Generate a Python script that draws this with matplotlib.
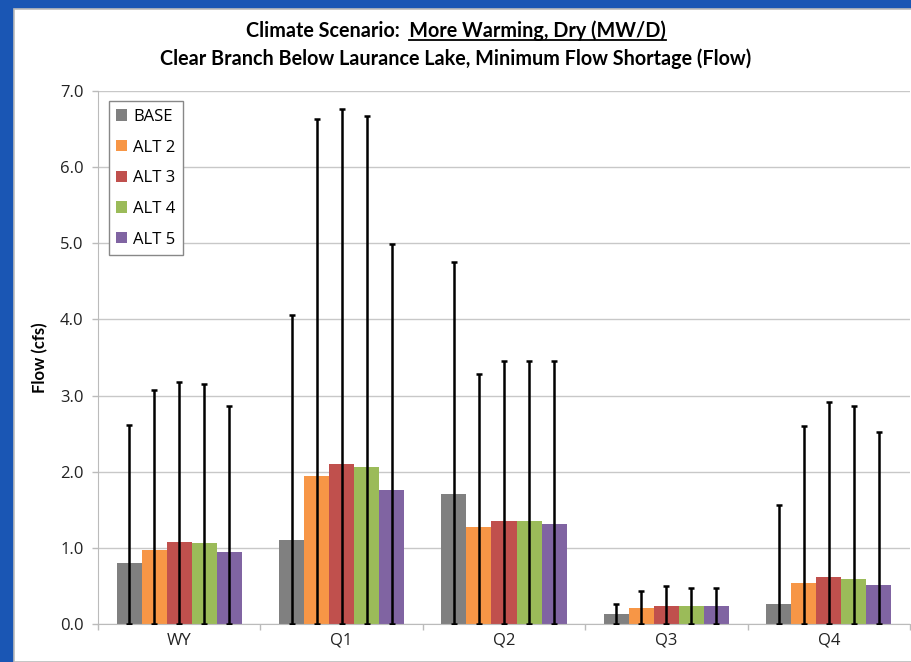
import numpy as np
import matplotlib
matplotlib.use("Agg")
import matplotlib.pyplot as plt
from matplotlib.patches import Rectangle

matplotlib.rcParams["font.family"] = ["Open Sans", "DejaVu Sans"]

# Data (cfs)
categories = ["WY", "Q1", "Q2", "Q3", "Q4"]
series = ["BASE", "ALT 2", "ALT 3", "ALT 4", "ALT 5"]
colors = ["#808080", "#F79646", "#C0504D", "#9BBB59", "#8064A2"]

mean_vals = {
    "BASE":  [0.80, 1.11, 1.71, 0.13, 0.26],
    "ALT 2": [0.98, 1.94, 1.28, 0.21, 0.54],
    "ALT 3": [1.08, 2.10, 1.35, 0.245, 0.615],
    "ALT 4": [1.06, 2.07, 1.35, 0.235, 0.60],
    "ALT 5": [0.955, 1.76, 1.32, 0.235, 0.515],
}
max_vals = {
    "BASE":  [2.62, 4.06, 4.75, 0.26, 1.57],
    "ALT 2": [3.08, 6.63, 3.28, 0.44, 2.60],
    "ALT 3": [3.18, 6.76, 3.46, 0.50, 2.92],
    "ALT 4": [3.15, 6.67, 3.46, 0.48, 2.87],
    "ALT 5": [2.86, 4.99, 3.46, 0.48, 2.52],
}

fig = plt.figure(figsize=(9.12, 6.62), dpi=100)
fig.patch.set_facecolor("#1A56B4")
# white slide area
fig.patches.append(Rectangle((14 / 912, 0), 1, 1 - 9 / 662, transform=fig.transFigure,
                             facecolor="white", edgecolor="#BBBBBB", lw=1.2, zorder=-10))

ax = fig.add_axes([98 / 912, 1 - 624.3 / 662, (910 - 98) / 912, (624.3 - 90.7) / 662])
ax.set_facecolor("none")

x = np.arange(len(categories))
w = 0.154
for i, s in enumerate(series):
    pos = x + (i - 2) * w
    m = np.array(mean_vals[s])
    mx = np.array(max_vals[s])
    ax.bar(pos, m, width=w, color=colors[i], label=s, zorder=2)
    ax.errorbar(pos, m, yerr=[m, mx - m], fmt="none", ecolor="black",
                elinewidth=1.8, capsize=2.5, capthick=1.8, zorder=3)

ax.set_xlim(-0.5, len(categories) - 0.5)
ax.set_ylim(0, 7)
ax.set_yticks(np.arange(0, 7.1, 1.0))
ax.set_yticklabels([f"{v:.1f}" for v in np.arange(0, 7.1, 1.0)])
ax.yaxis.grid(True, color="#C8C8C8", lw=1.0, zorder=0)
ax.set_axisbelow(True)

ax.set_xticks(x)
ax.set_xticklabels(categories)
ax.set_xticks(np.arange(-0.5, len(categories)), minor=True)
ax.tick_params(axis="x", which="major", length=0, pad=6, labelsize=12, labelcolor="#222222")
ax.tick_params(axis="x", which="minor", length=4.5, color="#BBBBBB", width=1)
ax.tick_params(axis="y", length=4.5, color="#BBBBBB", width=1, labelsize=12, pad=6,
               labelcolor="#222222")

for side in ["top", "right"]:
    ax.spines[side].set_visible(False)
ax.spines["left"].set_color("#BBBBBB")
ax.spines["bottom"].set_color("#BBBBBB")

ax.set_ylabel("Flow (cfs)", fontsize=12, fontweight="bold", labelpad=8, family="Lato")

leg = ax.legend(loc="upper left", bbox_to_anchor=(0.0135, 0.98), fontsize=12,
                handlelength=0.65, handleheight=0.65, handletextpad=0.35,
                labelspacing=0.88, borderpad=0.45, borderaxespad=0,
                fancybox=False, framealpha=1)
leg.get_frame().set_edgecolor("#888888")
leg.get_frame().set_linewidth(1.0)

# Title, with underline under the scenario name
prefix = "Climate Scenario:  "
name = "More Warming, Dry (MW/D)"
tsize = 14.2
t1 = fig.text(0.5, 1 - 31 / 662, prefix + name, ha="center", va="center",
              fontsize=tsize, fontweight="bold", family="Lato")
fig.text(0.5, 1 - 59 / 662, "Clear Branch Below Laurance Lake, Minimum Flow Shortage (Flow)",
         ha="center", va="center", fontsize=tsize, fontweight="bold", family="Lato")

fig.canvas.draw()
r = fig.canvas.get_renderer()
bb = t1.get_window_extent(r)
tmp = fig.text(0, 0, prefix, fontsize=tsize, fontweight="bold", family="Lato")
pw = tmp.get_window_extent(r).width
tmp.remove()
x0 = (bb.x0 + pw) / 912
x1 = bb.x1 / 912
yl = (bb.y0 + 1) / 662
fig.add_artist(plt.Line2D([x0, x1], [yl, yl], transform=fig.transFigure,
                          color="black", lw=1.3))

fig.savefig("out.png", dpi=100, facecolor=fig.get_facecolor())
